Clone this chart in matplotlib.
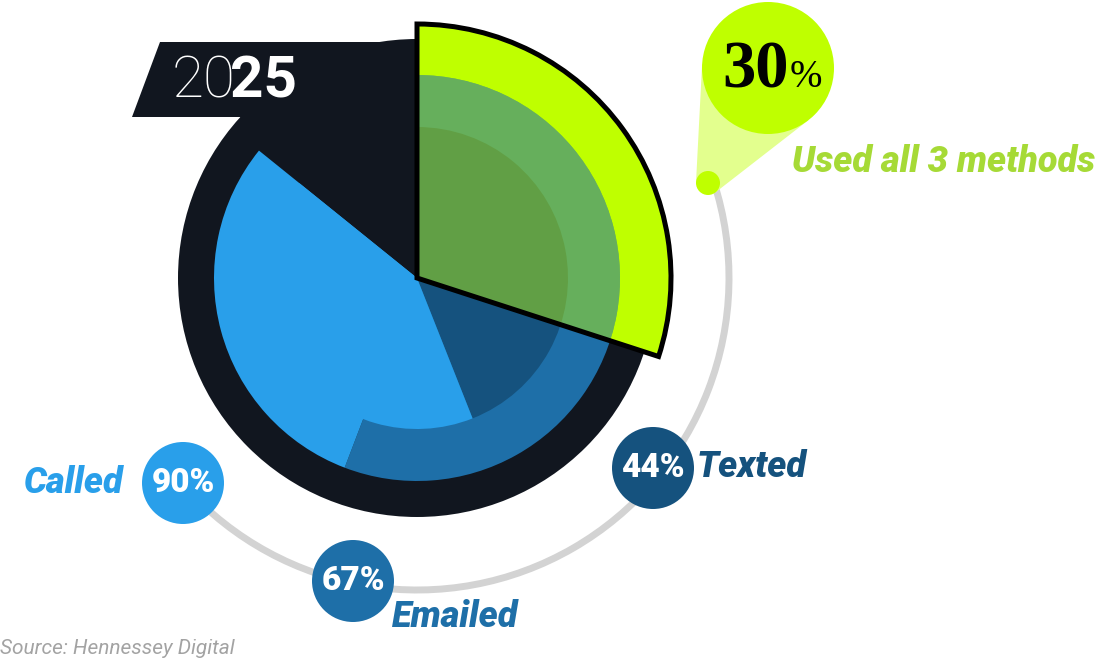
import matplotlib.pyplot as plt
from matplotlib.patches import Wedge, Circle, Polygon, Arc
import numpy as np

# survey values
methods = ['Called', 'Emailed', 'Texted']
method_pct = [90, 67, 44]
all3_label = 'Used all 3 methods'
all3_pct = 30
year = '2025'
source = 'Source: Hennessey Digital'

# share of the circle each coloured band covers
inner_band = [0.44, 0.418]   # texted, called  (inner disc)
outer_band = [0.558, 0.30]   # emailed, called (outer ring)

c_called = '#299fea'
c_email = '#1e6fa8'
c_text = '#15527e'
c_green = '#bfff00'
c_dark = '#11161f'
method_colors = [c_called, c_email, c_text]

W, H = 1099, 661
fig = plt.figure(figsize=(W / 100, H / 100), dpi=100)
ax = fig.add_axes([0, 0, 1, 1])
ax.set_xlim(0, W)
ax.set_ylim(0, H)
ax.set_aspect('equal')
ax.axis('off')


def py(y):
    # pixel row -> data y
    return H - y


cx, cy = 417, py(278)
r_in, r_out, r_green = 151, 203, 254

# dark base: disc + year tab
ax.add_patch(Circle((cx, cy), 239, color=c_dark, zorder=1, lw=0))
ax.add_patch(Polygon([(132, py(117)), (160, py(42)), (cx, py(42)), (cx, cy), (240, py(117))],
                     closed=True, color=c_dark, zorder=1, lw=0))

# highlighted slice
g0 = 90 - 360 * all3_pct / 100
ax.add_patch(Wedge((cx, cy), r_green, g0, 90, color=c_green, lw=0, zorder=2))

# outer ring (full wedges, inner disc painted over them)
e_end = 90 - 360 * outer_band[0]
c_end = e_end - 360 * outer_band[1]
ax.add_patch(Wedge((cx, cy), r_out, e_end, 90, color=c_email, lw=0, zorder=3))
ax.add_patch(Wedge((cx, cy), r_out, c_end, e_end, color=c_called, lw=0, zorder=3))

# inner disc
t_end = 90 - 360 * inner_band[0]
ci_end = t_end - 360 * inner_band[1]
ax.add_patch(Wedge((cx, cy), r_in, t_end, 90, color=c_text, lw=0, zorder=3.5))
ax.add_patch(Wedge((cx, cy), r_in, ci_end, t_end, color=c_called, lw=0, zorder=3.5))

# green tint over the rings + outline
ax.add_patch(Wedge((cx, cy), r_out, g0, 90, color=c_green, alpha=0.45, lw=0, zorder=4))
ax.add_patch(Wedge((cx, cy), r_green, g0, 90, fill=False, ec='black', lw=3.6, zorder=5,
                   joinstyle='miter'))

# grey track
ax.add_patch(Arc((cx, cy), 2 * 312, 2 * 312, theta1=-138, theta2=18, color='#d3d3d3', lw=5, zorder=0))

# 30% callout
dot = np.array([708, py(183)])
big = np.array([768, py(68)])
rd, rb = 12, 66
d = big - dot
D = np.hypot(*d)
base = np.arctan2(d[1], d[0])
al = np.arccos((rd - rb) / D)
pts = []
for s in (1, -1):
    u = np.array([np.cos(base + s * al), np.sin(base + s * al)])
    pts.append((dot + rd * u, big + rb * u))
ax.add_patch(Polygon([pts[0][0], pts[0][1], pts[1][1], pts[1][0]], closed=True,
                     color='#e3ff8e', lw=0, zorder=6))
ax.add_patch(Circle(big, rb, color=c_green, lw=0, zorder=7))
ax.add_patch(Circle(dot, rd, color=c_green, lw=0, zorder=7))
ax.text(789, py(87), str(all3_pct), ha='right', va='baseline', fontsize=48,
        family='Liberation Serif', weight='bold', color='black', zorder=8)
ax.text(790, py(87), '%', ha='left', va='baseline', fontsize=28,
        family='Liberation Serif', color='black', zorder=8)
ax.text(792, py(162), all3_label, ha='left', va='center', fontsize=26,
        family='Roboto', weight='heavy', style='italic', color='#a6da36')

# method bubbles
bubble_xy = [(183, py(483)), (353, py(581)), (653, py(468))]
label_xy = [(124, py(483), 'right'), (392, py(617), 'left'), (697, py(467), 'left')]
for m, p, col, (bx, by), (lx, ly, ha) in zip(methods, method_pct, method_colors, bubble_xy, label_xy):
    ax.add_patch(Circle((bx, by), 41, color=col, lw=0, zorder=7))
    ax.text(bx, by, f'{p}%', ha='center', va='center', fontsize=24, family='Roboto',
            weight='heavy', color='white', zorder=8)
    ax.text(lx, ly, m, ha=ha, va='center', fontsize=26, family='Roboto',
            weight='heavy', style='italic', color=col, zorder=8)

# year tab
ax.text(172, py(97), year[:2], ha='left', va='baseline', fontsize=42, family='Roboto',
        weight='ultralight', color='white', zorder=8)
ax.text(230, py(97), year[2:], ha='left', va='baseline', fontsize=42, family='Roboto',
        weight='bold', color='white', zorder=8)

ax.text(0, py(648), source, ha='left', va='center', fontsize=15, family='Roboto',
        style='italic', color='#a3a3a3')

fig.savefig('out.png', dpi=100, facecolor='white')
